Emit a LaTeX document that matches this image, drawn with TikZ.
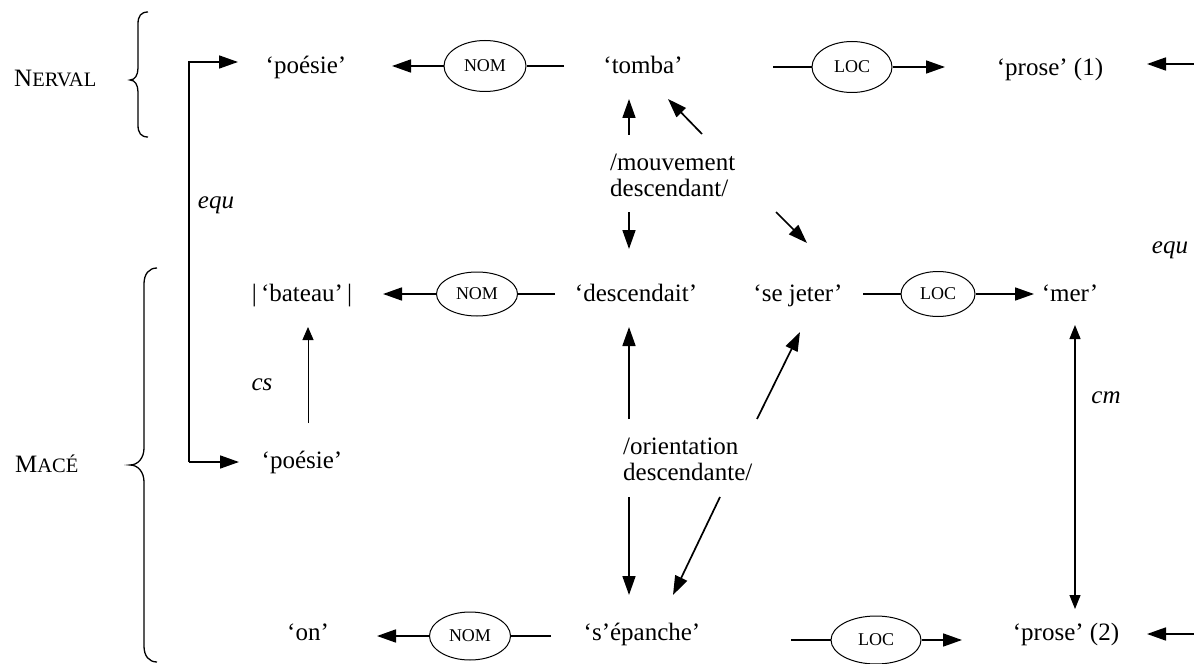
\documentclass[tikz,border=0pt]{standalone}
\usepackage{fontspec}
\setmainfont{Liberation Serif}
\usetikzlibrary{shapes.geometric,arrows.meta}
\newcommand\mysc[2]{{\fontsize{25bp}{28bp}\selectfont #1}{\fontsize{20.5bp}{28bp}\selectfont #2}}
\begin{document}
\begin{tikzpicture}[x=1bp,y=-1bp,
  txt/.style={font=\fontsize{25bp}{29bp}\selectfont, inner sep=0pt, anchor=base},
  blk/.style={font=\fontsize{25bp}{26bp}\selectfont, inner sep=0pt, anchor=west, align=left},
  rel/.style={draw, ellipse, line width=1bp, inner sep=0pt, font=\fontsize{18bp}{20bp}\selectfont},
  thickarr/.style={line width=1.7bp, -{Triangle[length=19bp,width=13bp]}},
  thinarr/.style={line width=1bp, -{Triangle[length=13bp,width=11bp]}},
  dblarr/.style={line width=1.2bp, {Triangle[length=14bp,width=11bp]}-{Triangle[length=14bp,width=11bp]}},
  thickln/.style={line width=1.7bp},
  lab/.style={font=\fontsize{25bp}{29bp}\selectfont\itshape, inner sep=0pt},
  brc/.style={line width=1.3bp},
]
\useasboundingbox (0,0) rectangle (1194,664);

% author labels and braces
\node[txt, anchor=base west] (nerval) at (14,87) {\mysc{N}{ERVAL}};
\node[txt, anchor=base west] (mace) at (15,472) {\mysc{M}{ACÉ}};
\draw[brc] (148,12) .. controls (141,12) and (138,16) .. (138,24) -- (138,68)
  .. controls (138,75) and (135,80) .. (130,80) .. controls (135,80) and (138,85) .. (138,92)
  -- (138,125) .. controls (138,133) and (141,137) .. (148,137);
\draw[brc] (157,268) .. controls (149,268) and (144,274) .. (144,284) -- (144,448)
  .. controls (144,458) and (138,465) .. (130,465) .. controls (138,465) and (144,472) .. (144,482)
  -- (144,646) .. controls (144,656) and (149,662) .. (157,662);

% row 1
\node[txt] (poe1) at (306,74) {‘poésie’};
\node[rel, minimum width=82bp, minimum height=51bp] (nom1) at (485,66) {NOM};
\node[txt] (tomba) at (643,74) {‘tomba’};
\node[rel, minimum width=80bp, minimum height=51bp] (loc1) at (852,67) {LOC};
\node[txt] (prose1) at (1050,76) {‘prose’ (1)};

% row 2
\node[txt] (bateau) at (302,301) {|\,‘bateau’\,|};
\node[rel, minimum width=81bp, minimum height=44bp] (nom2) at (477,294) {NOM};
\node[txt] (desc) at (636,301) {‘descendait’};
\node[txt] (jeter) at (798,301) {‘se jeter’};
\node[rel, minimum width=74bp, minimum height=45bp] (loc2) at (938,294) {LOC};
\node[txt] (mer) at (1070,301) {‘mer’};

% row 3
\node[txt] (poe2) at (302,468) {‘poésie’};

% row 4
\node[txt] (on) at (308,640) {‘on’};
\node[rel, minimum width=81bp, minimum height=48bp] (nom4) at (470,636) {NOM};
\node[txt] (epan) at (642,640) {‘s’épanche’};
\node[rel, minimum width=90bp, minimum height=48bp] (loc4) at (876,640) {LOC};
\node[txt] (prose2) at (1066,640) {‘prose’ (2)};

% semes
\node[blk] (mouv) at (610,175) {/mouvement\\descendant/};
\node[blk] (orient) at (623,459) {/orientation\\descendante/};

% italic labels
\node[lab] (equL) at (216,205) {equ};
\node[lab] (equR) at (1170,250) {equ};
\node[lab] (cs) at (262,385) {cs};
\node[lab] (cm) at (1106,398) {cm};

% coordinates for free ends
\coordinate (n1a) at (392,66); \coordinate (n1b) at (564,66);
\coordinate (l1a) at (773,67); \coordinate (l1b) at (945,67);
\coordinate (n2a) at (383,294); \coordinate (n2b) at (555,294);
\coordinate (l2a) at (863,294); \coordinate (l2b) at (1034,294);
\coordinate (n4a) at (377,636); \coordinate (n4b) at (551,636);
\coordinate (l4a) at (791,640); \coordinate (l4b) at (962,640);
\coordinate (r1a) at (1194,64); \coordinate (r1b) at (1147,64);
\coordinate (r4a) at (1194,634); \coordinate (r4b) at (1147,634);

% relation connectors
\draw[thickarr] (nom1) -- (n1a);
\draw[thickln] (n1b) -- (nom1);
\draw[thickln] (l1a) -- (loc1);
\draw[thickarr] (loc1) -- (l1b);
\draw[thickarr] (nom2) -- (n2a);
\draw[thickln] (n2b) -- (nom2);
\draw[thickln] (l2a) -- (loc2);
\draw[thickarr] (loc2) -- (l2b);
\draw[thickarr] (nom4) -- (n4a);
\draw[thickln] (n4b) -- (nom4);
\draw[thickln] (l4a) -- (loc4);
\draw[thickarr] (loc4) -- (l4b);
\draw[thickarr] (r1a) -- (r1b);
\draw[thickarr] (r4a) -- (r4b);

% equ bracket
\coordinate (eq1) at (238,62); \coordinate (eq2) at (239,462);
\draw[thickln, -{Triangle[length=19bp,width=13bp]}] (189,462) -- (189,62) -- (eq1);
\draw[thickarr] (189,462) -- (eq2);

% seme arrows
\coordinate (m1a) at (629,135); \coordinate (m1b) at (629,99);
\coordinate (m2a) at (702,134); \coordinate (m2b) at (668,99);
\coordinate (m3a) at (629,212); \coordinate (m3b) at (629,249);
\coordinate (m4a) at (776,212); \coordinate (m4b) at (807,243);
\draw[thickarr] (m1a) -- (m1b);
\draw[thickarr] (m2a) -- (m2b);
\draw[thickarr] (m3a) -- (m3b);
\draw[thickarr] (m4a) -- (m4b);
\coordinate (o1a) at (629,419); \coordinate (o1b) at (629,327);
\coordinate (o2a) at (757,419); \coordinate (o2b) at (800,332);
\coordinate (o3a) at (629,497); \coordinate (o3b) at (629,595);
\coordinate (o4a) at (720,497); \coordinate (o4b) at (673,595);
\draw[thickarr] (o1a) -- (o1b);
\draw[thickarr] (o2a) -- (o2b);
\draw[thickarr] (o3a) -- (o3b);
\draw[thickarr] (o4a) -- (o4b);

% cs and cm
\coordinate (csa) at (308,423); \coordinate (csb) at (308,327);
\draw[thinarr] (csa) -- (csb);
\coordinate (cma) at (1075,325); \coordinate (cmb) at (1075,609);
\draw[dblarr] (cma) -- (cmb);
\end{tikzpicture}
\end{document}
